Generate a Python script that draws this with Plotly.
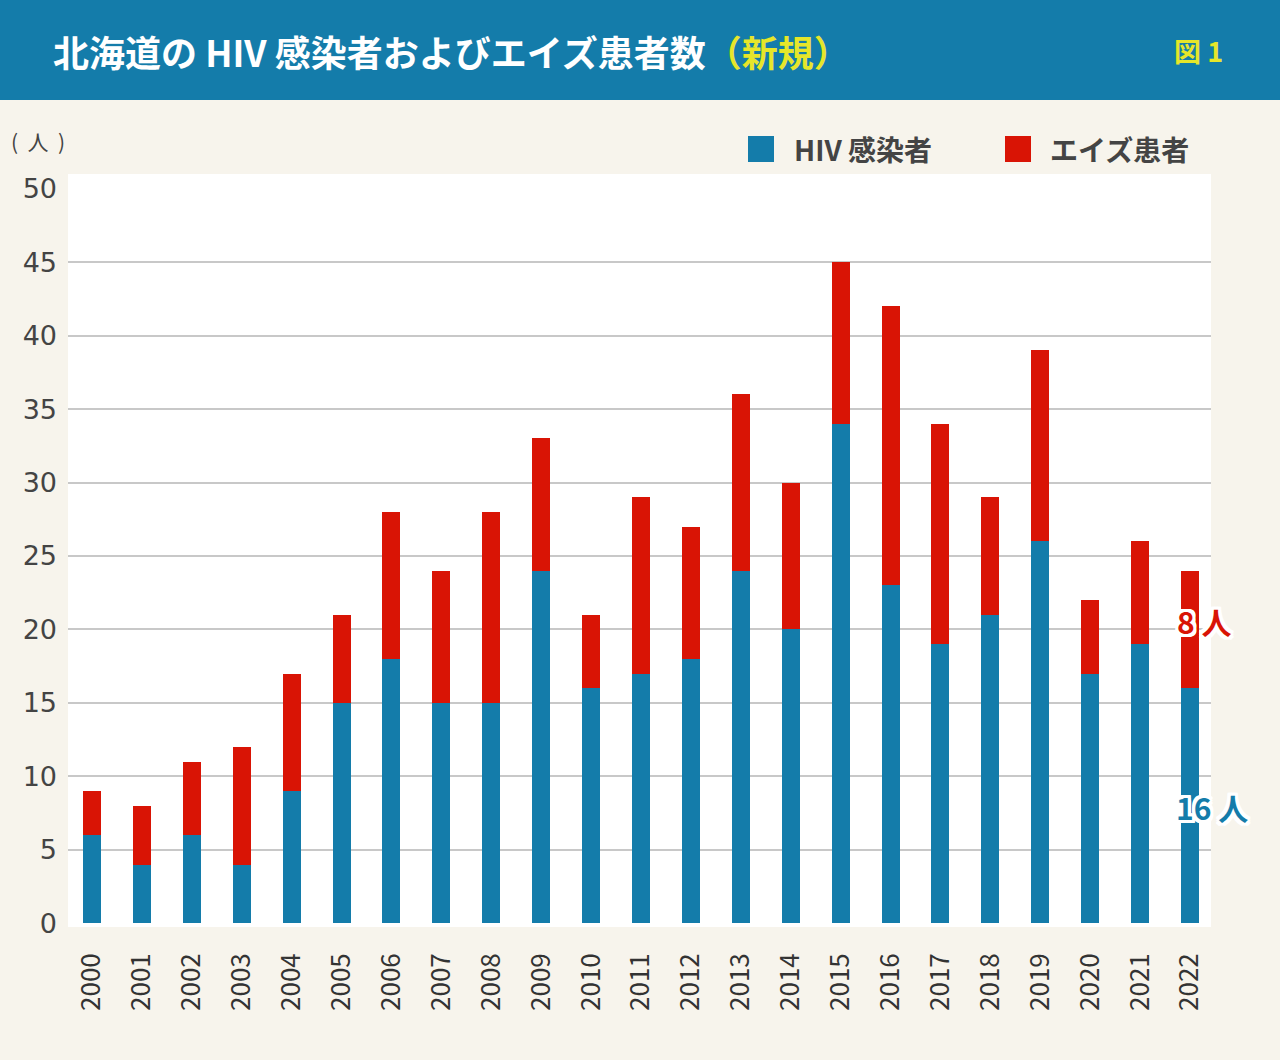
import plotly.graph_objects as go

# ---- data ----
years = [str(y) for y in range(2000, 2023)]
hiv = [6, 4, 6, 4, 9, 15, 18, 15, 15, 24, 16, 17, 18, 24, 20, 34, 23, 19, 21, 26, 17, 19, 16]
aids = [3, 4, 5, 8, 8, 6, 10, 9, 13, 9, 5, 12, 9, 12, 10, 11, 19, 15, 8, 13, 5, 7, 8]
y_ticks = [0, 5, 10, 15, 20, 25, 30, 35, 40, 45, 50]
grid_vals = [5, 10, 15, 20, 25, 30, 35, 40, 45]

title_main = "北海道の HIV 感染者およびエイズ患者数"
title_sub = "（新規）"
fig_no = "図 1"
series_names = ["HIV 感染者", "エイズ患者"]
unit_label = "(  人  )"
note_aids = "8 人"
note_hiv = "16 人"

# ---- style ----
BLUE = "#147CAA"
RED = "#D91405"
BG = "#F7F4EC"
YELLOW = "#E6E62A"
TXT = "#444444"
FONT = "Noto Sans CJK JP"

W, H = 1280, 1060
L, R, T, B = 68, 1211, 174, 927


def px(x):
    return (x - L) / (R - L)


def py(y):
    return (B - y) / (B - T)


fig = go.Figure()
fig.add_bar(x=years, y=hiv, name=series_names[0], marker=dict(color=BLUE, line=dict(width=0)), width=0.36)
fig.add_bar(x=years, y=aids, name=series_names[1], marker=dict(color=RED, line=dict(width=0)), width=0.36)

shapes = [
    # title band
    dict(type="rect", xref="paper", yref="paper", x0=px(0), x1=px(W), y0=py(100), y1=py(0),
         fillcolor=BLUE, line=dict(width=0), layer="below"),
    # legend swatches
    dict(type="rect", xref="paper", yref="paper", x0=px(748), x1=px(774), y0=py(162), y1=py(136),
         fillcolor=BLUE, line=dict(width=0)),
    dict(type="rect", xref="paper", yref="paper", x0=px(1005), x1=px(1031), y0=py(162), y1=py(136),
         fillcolor=RED, line=dict(width=0)),
]

shadow = ", ".join(f"{dx}px {dy}px 0 #ffffff" for dx in (-3, -2, 0, 2, 3) for dy in (-3, -2, 0, 2, 3) if dx or dy)

annotations = [
    dict(text=f"{title_main}<span style='color:{YELLOW}'>{title_sub}</span>",
         x=px(51), y=py(51), xref="paper", yref="paper", xanchor="left", yanchor="middle",
         showarrow=False, font=dict(family=FONT, size=36, color="white", weight="bold")),
    dict(text=fig_no, x=px(1225), y=py(51), xref="paper", yref="paper", xanchor="right", yanchor="middle",
         showarrow=False, font=dict(family=FONT, size=27, color=YELLOW, weight="bold")),
    dict(text=series_names[0], x=px(792), y=py(149), xref="paper", yref="paper", xanchor="left",
         yanchor="middle", showarrow=False, font=dict(family=FONT, size=28, color=TXT, weight="bold")),
    dict(text=series_names[1], x=px(1048), y=py(149), xref="paper", yref="paper", xanchor="left",
         yanchor="middle", showarrow=False, font=dict(family=FONT, size=28, color=TXT, weight="bold")),
    dict(text=unit_label, x=px(9), y=py(141), xref="paper", yref="paper", xanchor="left",
         yanchor="middle", showarrow=False, font=dict(family=FONT, size=21, color=TXT)),
    dict(text=note_aids, x=px(1175), y=py(621), xref="paper", yref="paper", xanchor="left",
         yanchor="middle", showarrow=False,
         font=dict(family=FONT, size=30, color=RED, weight="bold", shadow=shadow)),
    dict(text=note_hiv, x=px(1174), y=py(807), xref="paper", yref="paper", xanchor="left",
         yanchor="middle", showarrow=False,
         font=dict(family=FONT, size=30, color=BLUE, weight="bold", shadow=shadow)),
]

fig.update_layout(
    width=W, height=H,
    margin=dict(l=L, r=W - R, t=T, b=H - B, pad=0),
    paper_bgcolor=BG, plot_bgcolor="white",
    barmode="stack", showlegend=False,
    shapes=shapes, annotations=annotations,
    font=dict(family=FONT, color=TXT),
    xaxis=dict(type="category", range=[-0.48, 22.42], tickangle=-90, showgrid=False,
               showline=False, zeroline=False, ticks="", ticklabelstandoff=20,
               tickfont=dict(family=FONT, size=26, color="#333333")),
    yaxis=dict(range=[-0.25, 51.0], tickmode="array", tickvals=y_ticks, showgrid=False,
               zeroline=False, showline=False, ticks="", ticklabelstandoff=10,
               tickfont=dict(family="DejaVu Sans", size=27, color=TXT),
               minor=dict(tickmode="array", tickvals=grid_vals, showgrid=True,
                          gridcolor="#C8C8C8", gridwidth=1.5, ticks="")),
)

fig.write_html(
    "out.html",
    config={"displayModeBar": False},
    post_script="document.body.style.margin='0';document.body.style.overflow='hidden';",
)
